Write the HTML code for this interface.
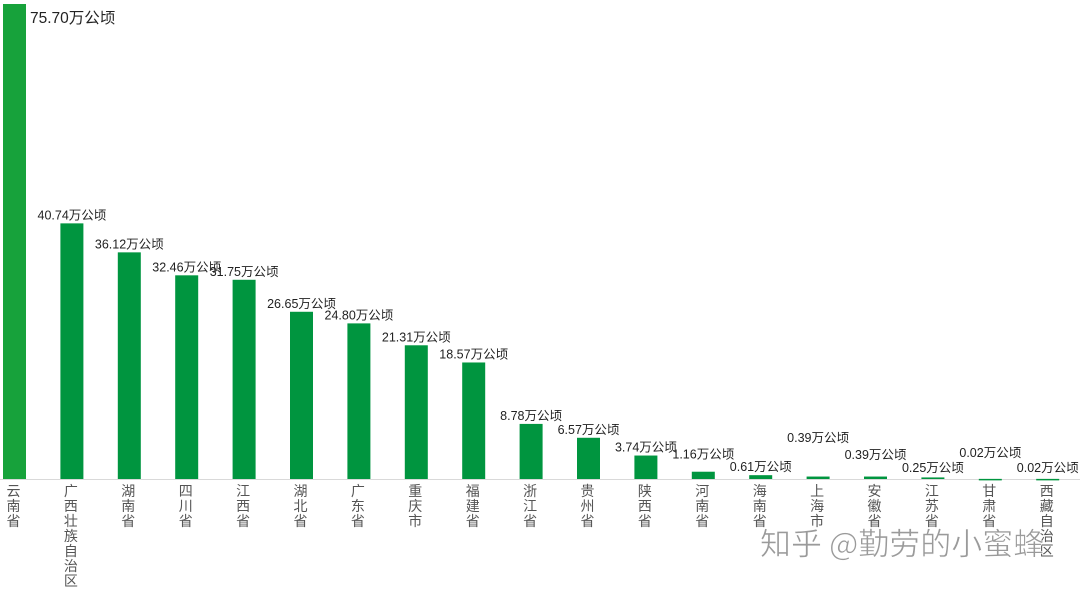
<!DOCTYPE html>
<html><head><meta charset="utf-8"><style>
html,body{margin:0;padding:0;background:#fff;}
svg{display:block;}
text{font-family:"Liberation Sans","Noto Sans CJK SC",sans-serif;}
</style></head><body>
<svg id="chart" width="1080" height="590" viewBox="0 0 1080 590" xmlns="http://www.w3.org/2000/svg">
<line x1="0" y1="479.5" x2="1080" y2="479.5" stroke="#d9d9d9" stroke-width="1"/>
<g id="bars"></g><g id="labels"></g><g id="cats"></g>
<text x="760" y="555" font-size="31" fill="#9a9a9a" stroke="#fff" stroke-width="0.6" style="font-family:'Noto Sans CJK SC',sans-serif">知乎 @勤劳的小蜜蜂</text>
</svg>
<script>
const categories = ["云南省","广西壮族自治区","湖南省","四川省","江西省","湖北省","广东省","重庆市","福建省","浙江省","贵州省","陕西省","河南省","海南省","上海市","安徽省","江苏省","甘肃省","西藏自治区"];
const values = [75.70,40.74,36.12,32.46,31.75,26.65,24.80,21.31,18.57,8.78,6.57,3.74,1.16,0.61,0.39,0.39,0.25,0.02,0.02];
const valueLabels = ["75.70万公顷","40.74万公顷","36.12万公顷","32.46万公顷","31.75万公顷","26.65万公顷","24.80万公顷","21.31万公顷","18.57万公顷","8.78万公顷","6.57万公顷","3.74万公顷","1.16万公顷","0.61万公顷","0.39万公顷","0.39万公顷","0.25万公顷","0.02万公顷","0.02万公顷"];
const labelLift = [0,0,0,0,0,0,0,0,0,0,0,0,9,0,30,13,0,15,0];

const NS="http://www.w3.org/2000/svg";
const base=479, top0=4, vmax=75.70;
function y(v){return base-(v/vmax)*(base-top0);}
function xc(i){return 14.5+i*57.4;}
const bw=23;
const gb=document.getElementById('bars'),gl=document.getElementById('labels'),gc=document.getElementById('cats');
values.forEach((v,i)=>{
  const r=document.createElementNS(NS,'rect');
  
  
  const yy=y(v);
  r.setAttribute('x',xc(i)-bw/2);r.setAttribute('y',yy);
  r.setAttribute('width',bw);r.setAttribute('height',Math.max(base-yy,1.5));
  r.setAttribute('fill',i===0?'#17a23b':'#00953f');
  gb.appendChild(r);
  const t=document.createElementNS(NS,'text');
  
  
  if(i===0){
    t.setAttribute('x',30);t.setAttribute('y',23);t.setAttribute('font-size','15.5');
  } else {
    t.setAttribute('x',xc(i));t.setAttribute('y',Math.min(yy-4,base-7)-labelLift[i]);
    t.setAttribute('text-anchor','middle');t.setAttribute('font-size','12.5');
  }
  t.setAttribute('fill','#222');
  t.textContent=valueLabels[i];
  gl.appendChild(t);
  const c=document.createElementNS(NS,'text');
  
  
  c.setAttribute('fill','#555');c.setAttribute('font-size','14');
  [...categories[i]].forEach((ch,k)=>{
    const s=document.createElementNS(NS,'tspan');
    s.setAttribute('x',xc(i)-1);s.setAttribute('y',496+k*15);
    s.setAttribute('text-anchor','middle');
    s.textContent=ch;c.appendChild(s);
  });
  gc.appendChild(c);
});
</script>
</body></html>
